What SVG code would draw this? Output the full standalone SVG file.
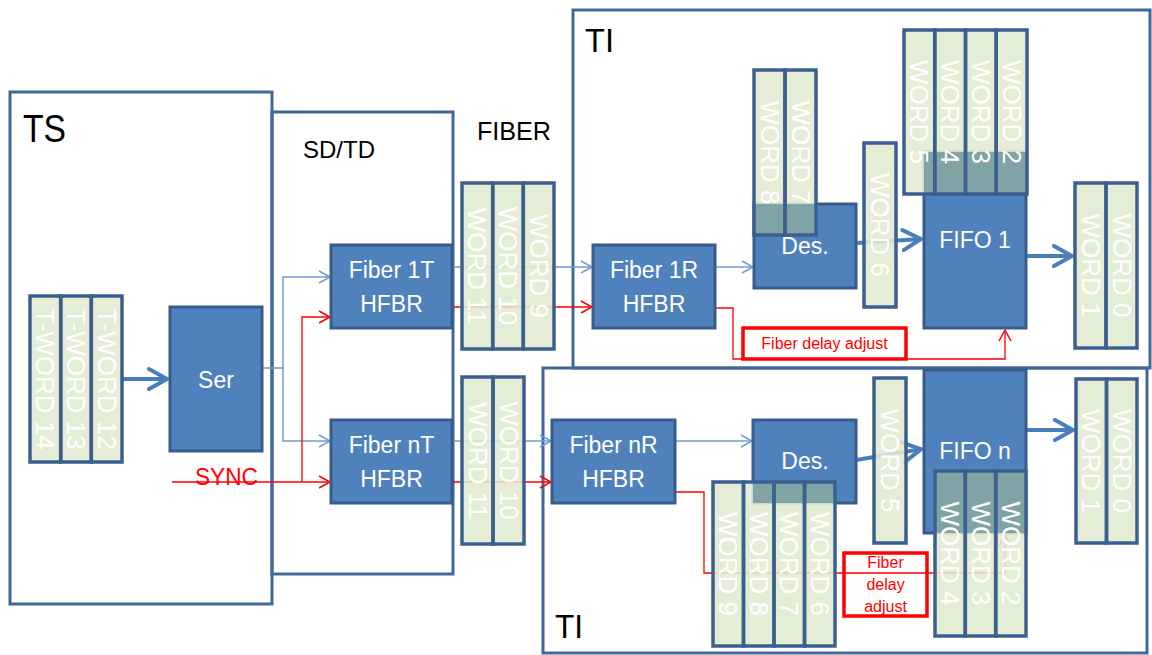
<svg xmlns="http://www.w3.org/2000/svg" width="1152" height="655" viewBox="0 0 1152 655">
<defs>
<style>
.ctr{fill:none;stroke:#41689b;stroke-width:3}
.box{fill:#4f81bd;stroke:#385d8a;stroke-width:3}
.cf{fill:#e3ead0;fill-opacity:.88}
.cs{fill:none;stroke:#3b6090;stroke-width:3.5}
.ov{fill:#80a3a5}
.wt{font-family:"Liberation Sans",Arial,sans-serif;font-size:26px;fill:#fff;text-anchor:middle}
.bt{font-family:"Liberation Sans",Arial,sans-serif;font-size:23px;fill:#fff;text-anchor:middle}
.lbl{font-family:"Liberation Sans",Arial,sans-serif;fill:#000}
.thin{fill:none;stroke:#6f9bd1;stroke-width:1.5}
.red{fill:none;stroke:#ff0000;stroke-width:1.3}
.thick{fill:none;stroke:#4a7ebb;stroke-width:4}
.rbox{fill:none;stroke:#ff0000;stroke-width:3.5}
.rt{font-family:"Liberation Sans",Arial,sans-serif;font-size:16px;fill:#ff0000;text-anchor:middle}
</style>
<marker id="ab" markerUnits="userSpaceOnUse" markerWidth="14" markerHeight="14" refX="12" refY="7" orient="auto"><path d="M1,1 L12,7 L1,13" fill="none" stroke="#6f9bd1" stroke-width="1.5"/></marker>
<marker id="ar" markerUnits="userSpaceOnUse" markerWidth="14" markerHeight="14" refX="12" refY="7" orient="auto"><path d="M1,1 L12,7 L1,13" fill="none" stroke="#ff0000" stroke-width="1.5"/></marker>
<marker id="at" markerUnits="userSpaceOnUse" markerWidth="24" markerHeight="24" refX="21" refY="12" orient="auto"><path d="M2,2 L20,12 L2,22" fill="none" stroke="#4a7ebb" stroke-width="4" stroke-linecap="round" stroke-linejoin="round"/></marker>
</defs>
<rect width="1152" height="655" fill="#fff"/>

<g id="containers">
<g id="TS"><rect class="ctr" x="10" y="92" width="262" height="512"/><text class="lbl" x="23" y="142" font-size="38" textLength="43" lengthAdjust="spacingAndGlyphs">TS</text></g>
<g id="SDTD"><rect class="ctr" x="272" y="112" width="181" height="462"/><text class="lbl" x="303" y="158" font-size="24">SD/TD</text></g>
<g id="FIBER"><text class="lbl" x="477" y="140" font-size="26" textLength="74" lengthAdjust="spacingAndGlyphs">FIBER</text></g>
<g id="TI1"><rect class="ctr" x="573" y="10" width="577" height="358"/><text class="lbl" x="585" y="52" font-size="34" textLength="29" lengthAdjust="spacingAndGlyphs">TI</text></g>
<g id="TIn"><rect class="ctr" x="543" y="368" width="604" height="285"/><text class="lbl" x="555" y="638" font-size="34" textLength="28" lengthAdjust="spacingAndGlyphs">TI</text></g>
</g>

<g id="connectors">
<path class="thick" d="M122,379 H168" marker-end="url(#at)"/>
<path class="thin" d="M262,368 H283 V277 H330" marker-end="url(#ab)"/>
<path class="thin" d="M283,368 V441 H330" marker-end="url(#ab)"/>
<path class="red" d="M172,482 H330" marker-end="url(#ar)"/>
<path class="red" d="M302,482 V317 H330" marker-end="url(#ar)"/>
<path class="thin" d="M452,267 H592" marker-end="url(#ab)"/>
<path class="red" d="M452,307 H592" marker-end="url(#ar)"/>
<path class="thin" d="M452,441 H551" marker-end="url(#ab)"/>
<path class="red" d="M452,482 H551" marker-end="url(#ar)"/>
<path class="thin" d="M715,267 H753" marker-end="url(#ab)"/>
<path class="thin" d="M675,441 H752" marker-end="url(#ab)"/>
<path class="thick" d="M856,243 L922,239" marker-end="url(#at)"/>
<path class="thick" d="M1026,256 H1073" marker-end="url(#at)"/>
<path class="thick" d="M856,460 L922,449" marker-end="url(#at)"/>
<path class="thick" d="M1026,430 H1074" marker-end="url(#at)"/>
<path class="red" d="M715,308 H733 V359 H1005 V330" marker-end="url(#ar)"/>
<path class="red" d="M675,492 H704 V573 H1005 V535" marker-end="url(#ar)"/>
</g>

<g id="ser"><rect class="box" x="170" y="307" width="92" height="144"/><text class="bt" x="216" y="388" font-size="26">Ser</text></g>
<g id="fiber1T"><rect class="box" x="331" y="245" width="121" height="83"/><text class="bt" x="391.5" y="278">Fiber 1T</text><text class="bt" x="391.5" y="312">HFBR</text></g>
<g id="fibernT"><rect class="box" x="331" y="420" width="121" height="83"/><text class="bt" x="391.5" y="453">Fiber nT</text><text class="bt" x="391.5" y="487">HFBR</text></g>
<g id="fiber1R"><rect class="box" x="593" y="245" width="122" height="83"/><text class="bt" x="654" y="278">Fiber 1R</text><text class="bt" x="654" y="312">HFBR</text></g>
<g id="fibernR"><rect class="box" x="552" y="420" width="123" height="83"/><text class="bt" x="613.5" y="453">Fiber nR</text><text class="bt" x="613.5" y="487">HFBR</text></g>
<g id="des1"><rect class="box" x="754" y="204" width="102" height="84"/><text class="bt" x="805" y="254" font-size="22">Des.</text></g>
<g id="desn"><rect class="box" x="753" y="420" width="103" height="83"/><text class="bt" x="805" y="469" font-size="22">Des.</text></g>
<g id="fifo1"><rect class="box" x="924" y="152" width="102" height="176"/><text class="bt" x="975" y="248" font-size="22">FIFO 1</text></g>
<g id="fifon"><rect class="box" x="924" y="370" width="102" height="163"/><text class="bt" x="975" y="459" font-size="22">FIFO n</text></g>

<g id="tword">
<rect class="cf" x="30" y="296" width="92" height="166"/>
<rect class="cs" x="30" y="296" width="30.7" height="166"/><rect class="cs" x="60.7" y="296" width="30.6" height="166"/><rect class="cs" x="91.3" y="296" width="30.7" height="166"/>
<text class="wt" transform="translate(45.3,379) rotate(90)" y="9">T-WORD 14</text>
<text class="wt" transform="translate(76,379) rotate(90)" y="9">T-WORD 13</text>
<text class="wt" transform="translate(106.7,379) rotate(90)" y="9">T-WORD 12</text>
</g>

<g id="words11-9">
<rect class="cf" x="462" y="183" width="92" height="166"/>
<rect class="cs" x="462" y="183" width="30.7" height="166"/><rect class="cs" x="492.7" y="183" width="30.6" height="166"/><rect class="cs" x="523.3" y="183" width="30.7" height="166"/>
<text class="wt" transform="translate(477.3,266) rotate(90)" y="9">WORD 11</text>
<text class="wt" transform="translate(508,266) rotate(90)" y="9">WORD 10</text>
<text class="wt" transform="translate(538.7,266) rotate(90)" y="9">WORD 9</text>
</g>

<g id="words11-10">
<rect class="cf" x="462" y="377" width="62" height="167"/>
<rect class="cs" x="462" y="377" width="31" height="167"/><rect class="cs" x="493" y="377" width="31" height="167"/>
<text class="wt" transform="translate(477.5,460.5) rotate(90)" y="9">WORD 11</text>
<text class="wt" transform="translate(508.5,460.5) rotate(90)" y="9">WORD 10</text>
</g>

<g id="words8-7">
<rect class="cf" x="754" y="70" width="62" height="165"/>
<rect class="ov" x="754" y="204" width="62" height="31"/>
<rect class="cs" x="754" y="70" width="31" height="165"/><rect class="cs" x="785" y="70" width="31" height="165"/>
<text class="wt" transform="translate(769.5,152.5) rotate(90)" y="9">WORD 8</text>
<text class="wt" transform="translate(800.5,152.5) rotate(90)" y="9">WORD 7</text>
</g>

<g id="word6a">
<rect class="cf" x="864" y="143" width="32" height="164"/>
<rect class="cs" x="864" y="143" width="32" height="164"/>
<text class="wt" transform="translate(880,225) rotate(90)" y="9">WORD 6</text>
</g>

<g id="words5-2a">
<rect class="cf" x="904" y="30" width="123" height="164"/>
<rect class="ov" x="924" y="152" width="103" height="42"/>
<rect class="cs" x="904" y="30" width="30.75" height="164"/><rect class="cs" x="934.75" y="30" width="30.75" height="164"/><rect class="cs" x="965.5" y="30" width="30.75" height="164"/><rect class="cs" x="996.25" y="30" width="30.75" height="164"/>
<text class="wt" transform="translate(919.4,112) rotate(90)" y="9">WORD 5</text>
<text class="wt" transform="translate(950.1,112) rotate(90)" y="9">WORD 4</text>
<text class="wt" transform="translate(980.9,112) rotate(90)" y="9">WORD 3</text>
<text class="wt" transform="translate(1011.6,112) rotate(90)" y="9">WORD 2</text>
</g>

<g id="words1-0a">
<rect class="cf" x="1075" y="183" width="62" height="165"/>
<rect class="cs" x="1075" y="183" width="31" height="165"/><rect class="cs" x="1106" y="183" width="31" height="165"/>
<text class="wt" transform="translate(1090.5,265.5) rotate(90)" y="9">WORD 1</text>
<text class="wt" transform="translate(1121.5,265.5) rotate(90)" y="9">WORD 0</text>
</g>

<g id="words9-6">
<rect class="cf" x="713" y="482" width="122" height="164"/>
<rect class="ov" x="753" y="482" width="82" height="21"/>
<rect class="cs" x="713" y="482" width="30.5" height="164"/><rect class="cs" x="743.5" y="482" width="30.5" height="164"/><rect class="cs" x="774" y="482" width="30.5" height="164"/><rect class="cs" x="804.5" y="482" width="30.5" height="164"/>
<text class="wt" transform="translate(728.25,564) rotate(90)" y="9">WORD 9</text>
<text class="wt" transform="translate(758.75,564) rotate(90)" y="9">WORD 8</text>
<text class="wt" transform="translate(789.25,564) rotate(90)" y="9">WORD 7</text>
<text class="wt" transform="translate(819.75,564) rotate(90)" y="9">WORD 6</text>
</g>

<g id="word5b">
<rect class="cf" x="874" y="378" width="32" height="165"/>
<rect class="cs" x="874" y="378" width="32" height="165"/>
<text class="wt" transform="translate(890,460.5) rotate(90)" y="9">WORD 5</text>
</g>

<g id="words4-2b">
<rect class="cf" x="935" y="471" width="91" height="165"/>
<rect class="ov" x="935" y="471" width="91" height="62"/>
<rect class="cs" x="935" y="471" width="30.3" height="165"/><rect class="cs" x="965.3" y="471" width="30.4" height="165"/><rect class="cs" x="995.7" y="471" width="30.3" height="165"/>
<text class="wt" transform="translate(950.2,553.5) rotate(90)" y="9">WORD 4</text>
<text class="wt" transform="translate(980.5,553.5) rotate(90)" y="9">WORD 3</text>
<text class="wt" transform="translate(1010.8,553.5) rotate(90)" y="9">WORD 2</text>
</g>

<g id="words1-0b">
<rect class="cf" x="1076" y="379" width="61" height="164"/>
<rect class="cs" x="1076" y="379" width="30.5" height="164"/><rect class="cs" x="1106.5" y="379" width="30.5" height="164"/>
<text class="wt" transform="translate(1091.25,461) rotate(90)" y="9">WORD 1</text>
<text class="wt" transform="translate(1121.75,461) rotate(90)" y="9">WORD 0</text>
</g>

<g id="sync"><text x="195" y="485" font-family="Liberation Sans, Arial, sans-serif" font-size="23" fill="#ff0000" textLength="63" lengthAdjust="spacingAndGlyphs">SYNC</text></g>

<g id="delay1"><rect class="rbox" x="743" y="328" width="163" height="31"/><text class="rt" x="824.5" y="349">Fiber delay adjust</text></g>
<g id="delayn"><rect class="rbox" x="844" y="553" width="83" height="63"/><text class="rt" x="885.5" y="568">Fiber</text><text class="rt" x="885.5" y="590">delay</text><text class="rt" x="885.5" y="612">adjust</text></g>
</svg>
